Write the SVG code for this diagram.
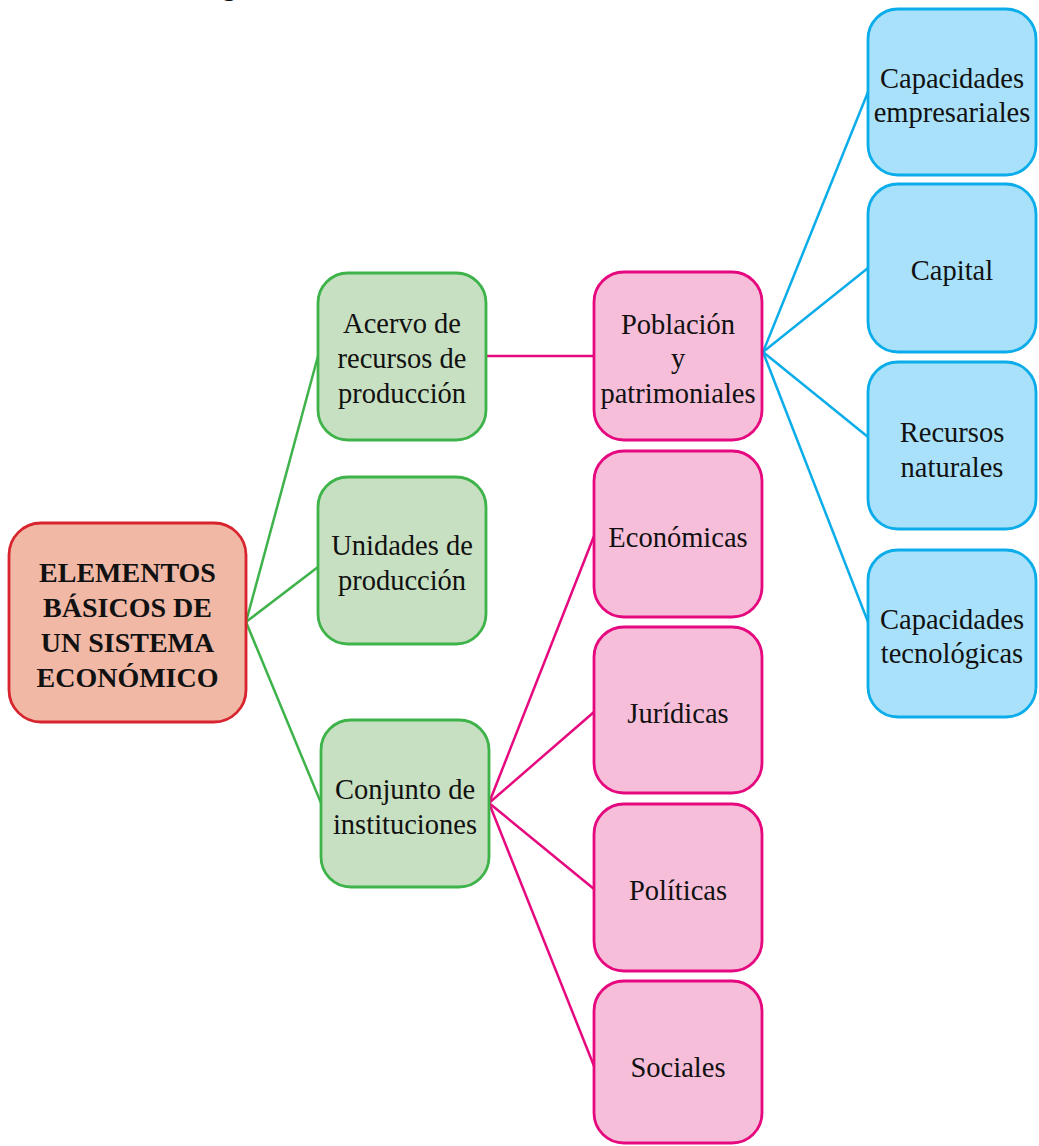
<svg xmlns="http://www.w3.org/2000/svg" width="1039" height="1146" viewBox="0 0 1039 1146">
  <style>
    .box { stroke-width: 2.8; }
    .root { fill: #F0B8A5; stroke: #D8242E; }
    .green { fill: #C8E0C2; stroke: #3DB34A; }
    .pink { fill: #F7BED9; stroke: #E5087E; }
    .blue { fill: #A9E1FA; stroke: #0AADE9; }
    text { font-family: "Liberation Serif", "Times New Roman", serif; font-size: 28.5px; fill: #111; text-anchor: middle; }
    text.bold { font-weight: bold; font-size: 28px; }
    .c-green { stroke: #3DB34A; stroke-width: 2.5; fill: none; }
    .c-pink { stroke: #E5087E; stroke-width: 2.5; fill: none; }
    .c-blue { stroke: #0AADE9; stroke-width: 2.5; fill: none; }
  </style>

  <!-- tail of a caption line clipped at the top edge -->
  <text x="222" y="-5" style="text-anchor:start">g</text>

  <g id="connectors">
    <line class="c-green" x1="246" y1="622" x2="318" y2="356"/>
    <line class="c-green" x1="246" y1="622" x2="318" y2="567"/>
    <line class="c-green" x1="246" y1="622" x2="321" y2="803"/>
    <line class="c-pink" x1="486" y1="356" x2="594" y2="356"/>
    <line class="c-pink" x1="489" y1="803" x2="594" y2="536"/>
    <line class="c-pink" x1="489" y1="803" x2="594" y2="712"/>
    <line class="c-pink" x1="489" y1="803" x2="594" y2="889"/>
    <line class="c-pink" x1="489" y1="803" x2="594" y2="1066"/>
    <line class="c-blue" x1="763" y1="352" x2="868" y2="92"/>
    <line class="c-blue" x1="763" y1="352" x2="868" y2="268"/>
    <line class="c-blue" x1="763" y1="352" x2="868" y2="437"/>
    <line class="c-blue" x1="763" y1="352" x2="868" y2="622"/>
  </g>

  <g id="root">
    <rect class="box root" x="9" y="523" width="237" height="199" rx="32"/>
    <text class="bold" x="127.5" y="582">ELEMENTOS</text>
    <text class="bold" x="127.5" y="617">BÁSICOS DE</text>
    <text class="bold" x="127.5" y="652">UN SISTEMA</text>
    <text class="bold" x="127.5" y="687">ECONÓMICO</text>
  </g>

  <g id="acervo">
    <rect class="box green" x="318" y="273" width="168" height="167" rx="30"/>
    <text x="402" y="333">Acervo de</text>
    <text x="402" y="368">recursos de</text>
    <text x="402" y="403">producción</text>
  </g>

  <g id="unidades">
    <rect class="box green" x="318" y="477" width="168" height="167" rx="30"/>
    <text x="402" y="555">Unidades de</text>
    <text x="402" y="590">producción</text>
  </g>

  <g id="conjunto">
    <rect class="box green" x="321" y="720" width="168" height="167" rx="30"/>
    <text x="405" y="799">Conjunto de</text>
    <text x="405" y="834">instituciones</text>
  </g>

  <g id="poblacion">
    <rect class="box pink" x="594" y="272" width="168" height="168" rx="30"/>
    <text x="678" y="334">Población</text>
    <text x="678" y="368">y</text>
    <text x="678" y="403">patrimoniales</text>
  </g>

  <g id="economicas">
    <rect class="box pink" x="594" y="451" width="168" height="166" rx="30"/>
    <text x="678" y="547">Económicas</text>
  </g>

  <g id="juridicas">
    <rect class="box pink" x="594" y="627" width="168" height="166" rx="30"/>
    <text x="678" y="723">Jurídicas</text>
  </g>

  <g id="politicas">
    <rect class="box pink" x="594" y="804" width="168" height="167" rx="30"/>
    <text x="678" y="900">Políticas</text>
  </g>

  <g id="sociales">
    <rect class="box pink" x="594" y="981" width="168" height="162" rx="30"/>
    <text x="678" y="1077">Sociales</text>
  </g>

  <g id="capacidades-empresariales">
    <rect class="box blue" x="868" y="9" width="168" height="166" rx="30"/>
    <text x="952" y="88">Capacidades</text>
    <text x="952" y="122">empresariales</text>
  </g>

  <g id="capital">
    <rect class="box blue" x="868" y="184" width="168" height="168" rx="30"/>
    <text x="952" y="280">Capital</text>
  </g>

  <g id="recursos-naturales">
    <rect class="box blue" x="868" y="362" width="168" height="167" rx="30"/>
    <text x="952" y="442">Recursos</text>
    <text x="952" y="477">naturales</text>
  </g>

  <g id="capacidades-tecnologicas">
    <rect class="box blue" x="868" y="550" width="168" height="167" rx="30"/>
    <text x="952" y="629">Capacidades</text>
    <text x="952" y="663">tecnológicas</text>
  </g>
</svg>
